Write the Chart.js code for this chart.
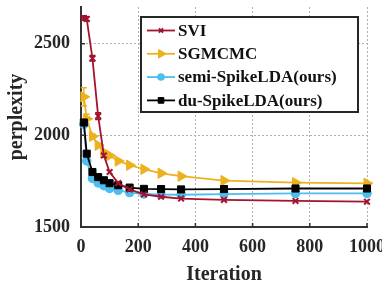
<!DOCTYPE html>
<html>
<head>
<meta charset="utf-8">
<script src="https://cdn.jsdelivr.net/npm/chart.js@4.4.1/dist/chart.umd.min.js"></script>
<style>
  body { margin: 0; background: #fff; }
  #wrap { width: 382px; height: 287px; }
</style>
</head>
<body>
<div id="wrap"><canvas id="perplexityChart" width="382" height="287"></canvas></div>
<script>
// Data
const iterations = [10, 20, 40, 60, 80, 100, 130, 170, 220, 280, 350, 500, 750, 1000];
const sviPerplexity = [2640, 2635, 2420, 2105, 1890, 1800, 1740, 1705, 1678, 1665, 1655, 1648, 1642, 1638];
const sgmcmcPerplexity = [2210, 2090, 1995, 1946, 1908, 1890, 1860, 1837, 1815, 1793, 1777, 1753, 1742, 1738];
const semiPerplexity = [2060, 1860, 1765, 1740, 1725, 1710, 1700, 1688, 1680, 1677, 1676, 1679, 1683, 1683];
const duPerplexity = [2070, 1900, 1800, 1772, 1755, 1739, 1728, 1715, 1708, 1707, 1705, 1707, 1710, 1710];
// small error bars on the first iterations
const sviError = [12, 12, 15, 18, 10, 0, 0, 0, 0, 0, 0, 0, 0, 0];
const sgmcmcError = [50, 25, 12, 8, 6, 0, 0, 0, 0, 0, 0, 0, 0, 0];
const xTicks = [0, 200, 400, 600, 800, 1000];
const yTicks = [1500, 2000, 2500];

const serif = '"Liberation Serif", "Times New Roman", serif';

function points(values) {
  return iterations.map((x, i) => ({ x: x, y: values[i] }));
}

// draws error bars under the markers
const errorBars = {
  id: "errorBars",
  beforeDatasetsDraw(chart) {
    const ctx = chart.ctx;
    const xs = chart.scales.x;
    const ys = chart.scales.y;
    chart.data.datasets.forEach((ds) => {
      if (!ds.errors) return;
      ctx.save();
      ctx.strokeStyle = ds.borderColor;
      ctx.lineWidth = 1.5;
      ds.data.forEach((p, i) => {
        const e = ds.errors[i];
        if (!e) return;
        const px = xs.getPixelForValue(p.x);
        const top = ys.getPixelForValue(p.y + e);
        const bot = ys.getPixelForValue(p.y - e);
        ctx.beginPath();
        ctx.moveTo(px, top); ctx.lineTo(px, bot);
        ctx.moveTo(px - 3, top); ctx.lineTo(px + 3, top);
        ctx.moveTo(px - 3, bot); ctx.lineTo(px + 3, bot);
        ctx.stroke();
      });
      ctx.restore();
    });
  },
};

// small inward tick marks on both axes
const innerTicks = {
  id: "innerTicks",
  afterDraw(chart) {
    const ctx = chart.ctx;
    const area = chart.chartArea;
    const xs = chart.scales.x;
    const ys = chart.scales.y;
    ctx.save();
    ctx.strokeStyle = "#333";
    ctx.lineWidth = 1.5;
    ctx.beginPath();
    xTicks.forEach((v) => {
      const px = xs.getPixelForValue(v);
      ctx.moveTo(px, area.bottom);
      ctx.lineTo(px, area.bottom - 4);
    });
    yTicks.forEach((v) => {
      const py = ys.getPixelForValue(v);
      ctx.moveTo(area.left, py);
      ctx.lineTo(area.left + 4, py);
    });
    ctx.stroke();
    ctx.restore();
  },
};

// legend box inside the plot, with line + marker samples
const boxLegend = {
  id: "boxLegend",
  afterDraw(chart) {
    const ctx = chart.ctx;
    const area = chart.chartArea;
    const left = area.left + 60;
    const top = area.top + 10;
    const w = 217, h = 95;
    ctx.save();
    ctx.fillStyle = "#fff";
    ctx.fillRect(left, top, w, h);
    ctx.lineWidth = 2;
    ctx.strokeStyle = "#262626";
    ctx.strokeRect(left, top, w, h);
    ctx.font = "bold 17px " + serif;
    ctx.textBaseline = "middle";
    chart.data.datasets.forEach((ds, i) => {
      const y = top + 13.5 + i * 23.3;
      ctx.strokeStyle = ds.borderColor;
      ctx.lineWidth = ds.borderWidth;
      ctx.beginPath();
      ctx.moveTo(left + 6, y);
      ctx.lineTo(left + 34, y);
      ctx.stroke();
      ctx.fillStyle = ds.pointBackgroundColor;
      ctx.strokeStyle = ds.pointBorderColor;
      ctx.lineWidth = ds.pointBorderWidth;
      Chart.helpers.drawPoint(ctx, {
        pointStyle: ds.pointStyle,
        radius: ds.pointRadius - 1,
        rotation: ds.pointRotation || 0,
        borderWidth: ds.pointBorderWidth,
      }, left + 20, y);
      ctx.fillStyle = "#111";
      ctx.fillText(ds.label, left + 37, y + 1);
    });
    ctx.restore();
  },
};

const ctx = document.getElementById("perplexityChart").getContext("2d");

new Chart(ctx, {
  type: "line",
  data: {
    datasets: [
      {
        label: "SVI",
        data: points(sviPerplexity),
        errors: sviError,
        borderColor: "#a2142f",
        borderWidth: 1.8,
        pointStyle: "crossRot",
        pointRadius: 4,
        pointBorderWidth: 2,
        pointBackgroundColor: "#a2142f",
        pointBorderColor: "#a2142f",
        order: 0,
      },
      {
        label: "SGMCMC",
        data: points(sgmcmcPerplexity),
        errors: sgmcmcError,
        borderColor: "#edb120",
        borderWidth: 1.8,
        pointStyle: "triangle",
        pointRotation: 90,
        pointRadius: 6,
        pointBorderWidth: 1,
        pointBackgroundColor: "#edb120",
        pointBorderColor: "#edb120",
        order: 3,
      },
      {
        label: "semi-SpikeLDA(ours)",
        data: points(semiPerplexity),
        borderColor: "#4dbeee",
        borderWidth: 1.8,
        pointStyle: "circle",
        pointRadius: 4,
        pointBorderWidth: 1.5,
        pointBackgroundColor: "#4dbeee",
        pointBorderColor: "#4dbeee",
        order: 2,
      },
      {
        label: "du-SpikeLDA(ours)",
        data: points(duPerplexity),
        borderColor: "#000",
        borderWidth: 1.8,
        pointStyle: "rect",
        pointRadius: 5,
        pointBorderWidth: 1,
        pointBackgroundColor: "#000",
        pointBorderColor: "#000",
        order: 1,
      },
    ],
  },
  options: {
    responsive: false,
    animation: false,
    devicePixelRatio: 1,
    clip: false,
    layout: { padding: { top: 5, right: 15, bottom: 0, left: 0 } },
    plugins: {
      legend: { display: false },
      tooltip: { enabled: false },
    },
    scales: {
      x: {
        type: "linear",
        min: 0,
        max: 1000,
        afterBuildTicks: (s) => { s.ticks = xTicks.map((v) => ({ value: v })); },
        afterFit: (s) => { s.height = 60; s.paddingLeft = 0; s.paddingRight = 0; },
        grid: { color: "#b0b0b0", lineWidth: 1, drawTicks: false },
        border: { color: "#333", width: 2, dash: [2, 2] },
        ticks: {
          padding: 10,
          color: "#262626",
          maxRotation: 0,
          callback: (v) => String(v),
          font: { family: serif, size: 18, weight: "bold" },
        },
        title: {
          display: true,
          text: "Iteration",
          color: "#262626",
          padding: { top: 0, bottom: 0 },
          font: { family: serif, size: 20, weight: "bold" },
        },
      },
      y: {
        type: "linear",
        min: 1500,
        max: 2700,
        afterBuildTicks: (s) => { s.ticks = yTicks.map((v) => ({ value: v })); },
        afterFit: (s) => { s.width = 81; s.paddingTop = 0; s.paddingBottom = 0; },
        grid: { color: "#b0b0b0", lineWidth: 1, drawTicks: false },
        border: { color: "#333", width: 2, dash: [2, 2] },
        ticks: {
          padding: 11,
          color: "#262626",
          callback: (v) => String(v),
          font: { family: serif, size: 18, weight: "bold" },
        },
        title: {
          display: true,
          text: "perplexity",
          color: "#262626",
          padding: { top: 5, bottom: 0 },
          font: { family: serif, size: 20, weight: "bold" },
        },
      },
    },
  },
  plugins: [errorBars, innerTicks, boxLegend],
});
</script>
</body>
</html>
